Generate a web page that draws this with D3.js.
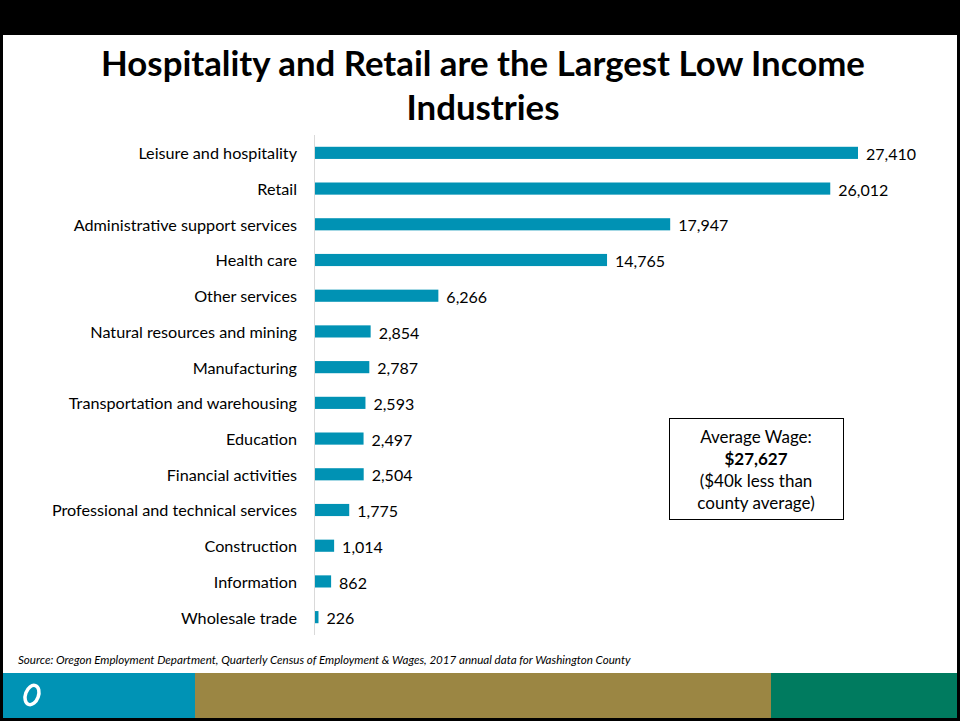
<!DOCTYPE html>
<html><head><meta charset="utf-8">
<script src="https://cdn.jsdelivr.net/npm/d3@7"></script>
<style>body{margin:0;background:#fff;}svg{display:block;}</style>
</head><body>
<script>
const categories = ["Leisure and hospitality","Retail","Administrative support services","Health care","Other services","Natural resources and mining","Manufacturing","Transportation and warehousing","Education","Financial activities","Professional and technical services","Construction","Information","Wholesale trade"];
const values = [27410,26012,17947,14765,6266,2854,2787,2593,2497,2504,1775,1014,862,226];
const titleLines = ["Hospitality and Retail are the Largest Low Income","Industries"];
const noteLines = ["Average Wage:","$27,627","($40k less than","county average)"];
const sourceText = "Source: Oregon Employment Department, Quarterly Census of Employment & Wages, 2017 annual data for Washington County";

(function(){
const W = 960, H = 721;
const FF = "Lato, 'Open Sans', sans-serif";
const svg = d3.select("body").append("svg").attr("width", W).attr("height", H);
svg.append("rect").attr("width", W).attr("height", H).attr("fill", "#fff");
svg.append("rect").attr("x",0).attr("y",0).attr("width",W).attr("height",35).attr("fill","#000");
svg.append("rect").attr("x",0).attr("y",0).attr("width",3).attr("height",H).attr("fill","#000");
svg.append("rect").attr("x",W-3).attr("y",0).attr("width",3).attr("height",H).attr("fill","#000");
svg.append("rect").attr("x",0).attr("y",H-3).attr("width",W).attr("height",3).attr("fill","#000");

svg.append("text").attr("x", 483).attr("y", 76).attr("text-anchor","middle")
  .attr("font-family",FF).attr("font-weight","bold").attr("font-size",34.8)
  .selectAll("tspan").data(titleLines).join("tspan").attr("x",483).attr("dy",(d,i)=>i?44:0).text(d=>d);

const x0 = 314, yTop = 135, yBottom = 635;
const x = d3.scaleLinear().domain([0, 27410]).range([x0, 858]);
const y = d3.scaleBand().domain(categories).range([yTop, yBottom]).paddingInner(0.66).paddingOuter(0.33);

const g = svg.append("g");
g.selectAll("rect.bar").data(values).join("rect").attr("class","bar")
  .attr("x", x(0)).attr("y",(d,i)=>y(categories[i]))
  .attr("width", d=>x(d)-x(0)).attr("height", y.bandwidth()).attr("fill","#0092B4");

const yAxis = d3.axisLeft(y).tickSize(0).tickPadding(17);
const ag = svg.append("g").attr("transform",`translate(${x0},0)`).call(yAxis);
ag.select(".domain").attr("stroke","#d9d9d9").attr("d",`M0.5,${yTop}V${yBottom}`);
ag.selectAll("text").attr("font-family",FF).attr("font-size",16.2).attr("fill","#000").attr("dy","0.4em");

g.selectAll("text.val").data(values).join("text").attr("class","val")
  .attr("x", d=>x(d)+8).attr("y",(d,i)=>y(categories[i])+y.bandwidth()/2).attr("dy","0.45em")
  .attr("font-family",FF).attr("font-size",16).attr("fill","#000")
  .text(d=>d3.format(",")(d));

svg.append("rect").attr("x",669.5).attr("y",418.5).attr("width",174).attr("height",101)
  .attr("fill","#fff").attr("stroke","#000").attr("stroke-width",1);
svg.append("g").selectAll("text").data(noteLines).join("text")
  .attr("x",756).attr("y",(d,i)=>443+i*22).attr("text-anchor","middle")
  .attr("font-family",FF).attr("font-size",17)
  .attr("font-weight",(d,i)=>i===1?"bold":"normal").text(d=>d);

svg.append("text").attr("x",18).attr("y",664).attr("font-family",FF)
  .attr("font-style","italic").attr("font-size",11.6).attr("fill","#000").text(sourceText);

const fy = 673, fh = 45;
svg.append("rect").attr("x",3).attr("y",fy).attr("width",192).attr("height",fh).attr("fill","#0093B5");
svg.append("rect").attr("x",195).attr("y",fy).attr("width",576).attr("height",fh).attr("fill","#9B8643");
svg.append("rect").attr("x",771).attr("y",fy).attr("width",186).attr("height",fh).attr("fill","#007B5F");
svg.append("ellipse").attr("cx",32).attr("cy",695).attr("rx",6.5).attr("ry",10)
  .attr("transform","rotate(20,32,695)").attr("fill","none").attr("stroke","#fff").attr("stroke-width",3.5);
})();
</script>
</body></html>
